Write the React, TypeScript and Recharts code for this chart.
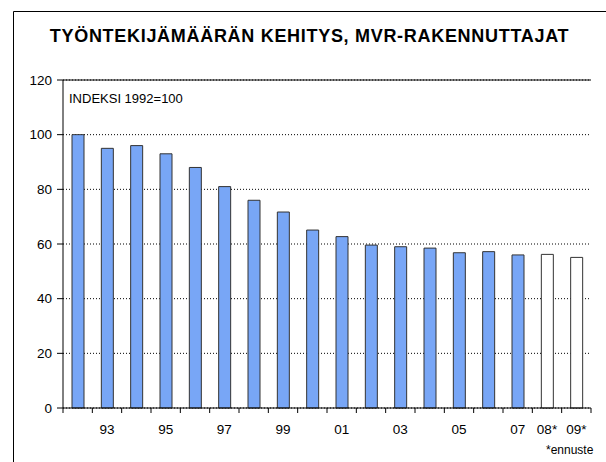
import { BarChart, Bar, XAxis, YAxis, CartesianGrid, ReferenceLine, Cell, Customized } from "recharts";

// index 1992 = 100, 2008-2009 forecast
const years = [1992, 1993, 1994, 1995, 1996, 1997, 1998, 1999, 2000, 2001, 2002, 2003, 2004, 2005, 2006, 2007, 2008, 2009];
const tickLabels = ["", "93", "", "95", "", "97", "", "99", "", "01", "", "03", "", "05", "", "07", "08*", "09*"];
const values = [100, 95, 96, 93, 88, 81, 76, 71.7, 65.1, 62.7, 59.6, 59, 58.5, 56.8, 57.2, 56, 56.2, 55.1];
const forecastYears = [2008, 2009];
const yTicks = [0, 20, 40, 60, 80, 100, 120];

const data = years.map((y, i) => ({ year: String(y), value: values[i] }));

const font = '"Liberation Sans", Arial, sans-serif';
const TICK = 5;
const GAP = 11;

// Excel-style x tick: mark between categories, label centred on the bar
function YearTick(props: any) {
  const { x, y, payload, index } = props;
  const half = payload?.offset ?? 0;
  const top = y - TICK - GAP;
  const last = index === years.length - 1;
  return (
    <g>
      <line x1={x - half} x2={x - half} y1={top} y2={top + TICK} stroke="#000" />
      {last && <line x1={x + half} x2={x + half} y1={top} y2={top + TICK} stroke="#000" />}
      <text x={x} y={y} dy="0.71em" textAnchor="middle" fill="#000" fontSize={13.5} fontFamily={font}>
        {tickLabels[index]}
      </text>
    </g>
  );
}

// chart-area frame (left and top edge, the rest runs off the picture)
function Frame() {
  return <path d="M13.5 462 V11.5 H606" stroke="#000" strokeWidth={1} fill="none" />;
}

export default function App() {
  return (
    <div style={{ position: "absolute", left: 0, top: 0, width: 606, height: 462, background: "#fff", fontFamily: font, overflow: "hidden" }}>
      <BarChart
        width={606}
        height={462}
        data={data}
        margin={{ top: 80, right: 15, bottom: 14, left: 13 }}
        barCategoryGap={0}
        barSize={12}
      >
        <Customized component={Frame} />
        <CartesianGrid horizontal vertical={false} stroke="#000" strokeDasharray="1 2" />
        <XAxis
          dataKey="year"
          interval={0}
          tickLine={false}
          tickSize={TICK}
          tickMargin={GAP}
          axisLine={{ stroke: "#000" }}
          height={40}
          tick={<YearTick />}
        />
        <YAxis
          domain={[0, 120]}
          ticks={yTicks}
          interval={0}
          width={50}
          tickSize={6}
          tickMargin={5}
          axisLine={{ stroke: "#000" }}
          tickLine={{ stroke: "#000" }}
          tick={{ fill: "#000", fontSize: 13.5, fontFamily: font }}
        />
        <YAxis yAxisId="frame" orientation="right" width={0} domain={[0, 120]} tick={false} tickLine={false} axisLine={{ stroke: "#555" }} />
        <ReferenceLine y={120} stroke="#000" />
        <Bar dataKey="value" stroke="#333" strokeWidth={1} isAnimationActive={false}>
          {data.map((d, i) => (
            <Cell key={i} fill={forecastYears.includes(years[i]) ? "#fff" : "#78a6f6"} />
          ))}
        </Bar>
      </BarChart>
      <div style={{ position: "absolute", left: 13, width: 593, top: 26, textAlign: "center", fontWeight: "bold", fontSize: 18, letterSpacing: 0.7, color: "#000" }}>
        TYÖNTEKIJÄMÄÄRÄN KEHITYS, MVR-RAKENNUTTAJAT
      </div>
      <div style={{ position: "absolute", left: 69, top: 91, fontSize: 13, color: "#000" }}>INDEKSI 1992=100</div>
      <div style={{ position: "absolute", left: 546, top: 443, fontSize: 12, color: "#000" }}>*ennuste</div>
    </div>
  );
}
